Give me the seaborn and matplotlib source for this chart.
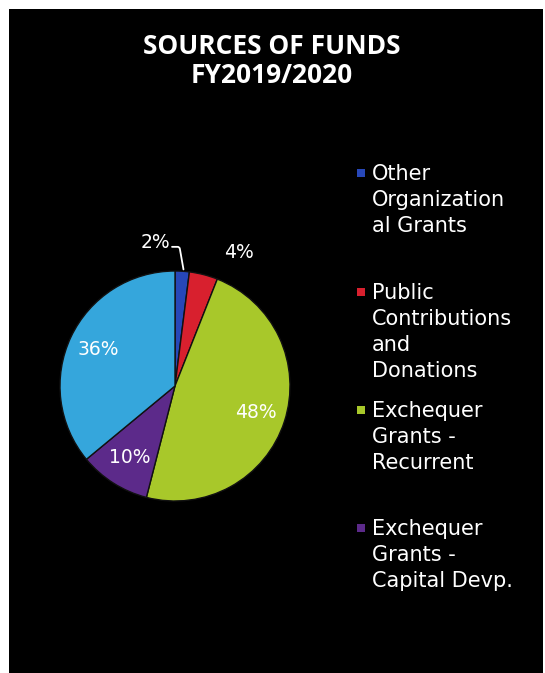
# Sources of funds FY2019/2020 - pie chart on black panel

import matplotlib
matplotlib.use("Agg")
import matplotlib.pyplot as plt
import seaborn as sns
from matplotlib.patches import Rectangle

# data
labels = ["Other\nOrganization\nal Grants",
          "Public\nContributions\nand\nDonations",
          "Exchequer\nGrants -\nRecurrent",
          "Exchequer\nGrants -\nCapital Devp."]
shares = [2, 4, 48, 10, 36]
slice_colors = ["#2747b8", "#d8202e", "#a8c82a", "#5c2a8a", "#35a6dc"]

sns.set_theme(style="dark")
plt.rcParams["font.family"] = ["DejaVu Sans"]

fig = plt.figure(figsize=(5.45, 6.73), dpi=100, facecolor="white")
# black panel (scanned page look, thin white margin top/left)
fig.patches.append(Rectangle((9 / 545, 0), 534 / 545, 664 / 673,
                             transform=fig.transFigure, facecolor="black",
                             edgecolor="none", zorder=-5))

fig.text(272 / 545, 1 - 61 / 673, "SOURCES OF FUNDS\nFY2019/2020",
         ha="center", va="center", color="white", fontsize=19,
         fontweight="bold", linespacing=1.12, zorder=5,
         family=["Open Sans", "DejaVu Sans"])

ax = fig.add_axes([60 / 545, (673 - 501) / 673, 230 / 545, 230 / 673])
ax.set_facecolor("none")
wedges, texts, autotexts = ax.pie(
    shares, colors=slice_colors, startangle=90, counterclock=False,
    autopct="%d%%", pctdistance=0.74,
    wedgeprops=dict(edgecolor="#111111", linewidth=1),
    textprops=dict(color="white", fontsize=13.5))
ax.set_xlim(-1, 1)
ax.set_ylim(-1, 1)
ax.set_aspect("equal")
ax.axis("off")

# small slices get their labels outside
autotexts[0].set_position((-0.17, 1.25))
autotexts[1].set_position((0.56, 1.165))
ax.annotate("", xy=(0.078, 0.99), xytext=(-0.05, 1.21),
            arrowprops=dict(arrowstyle="-", color="white", lw=1.3,
                            connectionstyle="angle,angleA=0,angleB=100,rad=2"))

# legend, one fixed slot per entry
legend_ax = fig.add_axes([0, 0, 1, 1])
legend_ax.set_xlim(0, 545)
legend_ax.set_ylim(673, 0)
legend_ax.axis("off")
slot_tops = [173, 292, 410, 528]
for lab, col, y in zip(labels, slice_colors[:4], slot_tops):
    legend_ax.scatter([361], [y], marker="s", s=28, color=col, edgecolor="none")
    legend_ax.text(372, y - 9, lab, color="white", fontsize=15,
                   va="top", ha="left", linespacing=1.38)

fig.savefig("out.png", dpi=100, facecolor=fig.get_facecolor())
